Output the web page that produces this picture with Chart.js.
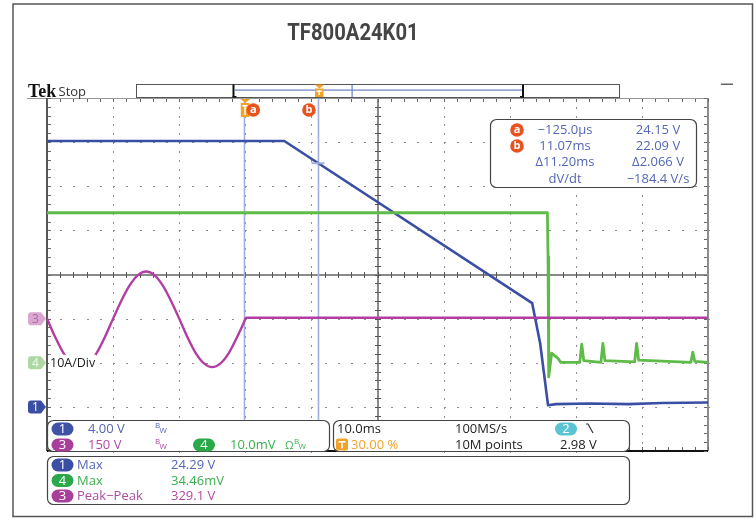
<!DOCTYPE html>
<html>
<head>
<meta charset="utf-8">
<script src="https://cdn.jsdelivr.net/npm/chart.js@4/dist/chart.umd.min.js"></script>
<style>
  html, body { margin: 0; padding: 0; background: #fff; }
  #scope { display: block; }
</style>
</head>
<body>
<canvas id="scope" width="756" height="519"></canvas>
<script>
// ── Scope capture: TF800A24K01 ──
// Ch1 = output voltage, Ch3 = mains, Ch4 = current probe (10A/Div).

// time axis in ms (10 ms/div, trigger at 30 %)
const ch1Time  = [-30, 5.9, 43.4, 44.6, 45.8, 47, 52, 58, 63, 70];
const ch1Volts = [24.1, 24.1, 9.4, 5.8, 0.15, 0.25, 0.3, 0.25, 0.35, 0.4];

const ch3Time  = [-30, -28.75, -27.5, -26.25, -25, -23.75, -22.5, -21.25, -20, -18.75, -17.5, -16.25,
                  -15, -13.75, -12.5, -11.25, -10, -8.75, -7.5, -6.25, -5, -3.75, -2.5, -1.25, 0, 0.1, 70];
const ch3Volts = [0, -63, -117, -152, -165, -152, -117, -63, 0, 61, 113, 148,
                  160, 148, 113, 61, 0, -63, -117, -152, -165, -152, -117, -63, -2, 3, 3];

const ch4Time       = [-30, 45.7, 45.8, 45.9, 46.35, 46.8, 47.3, 47.7, 50.6, 50.9, 51.2, 53.8, 54.1, 54.4,
                       58.9, 59.2, 59.5, 67.4, 67.7, 68.0, 70];
const ch4MilliVolts = [34, 34, 24, -3.2, 2.2, 1.6, 1.0, 0.1, 0.1, 4.2, 0.5, 0.1, 4.4, 0.5,
                       0.2, 4.4, 0.6, 0.1, 2.4, 0.3, 0.1];

const cursorTimes = [-0.125, 11.07];
const cursorVolts = [24.15, 22.09];
const cursorNames = ['a', 'b'];
const readoutTime = ['\u2212125.0\u00b5s', '11.07ms', '\u039411.20ms', 'dV/dt'];
const readoutVolt = ['24.15 V', '22.09 V', '\u03942.066 V', '\u2212184.4 V/s'];

const measNames  = ['Max', 'Max', 'Peak\u2212Peak'];
const measValues = ['24.29 V', '34.46mV', '329.1 V'];
const measChans  = ['1', '4', '3'];

const C = {
  ch1: '#3a4fa3', ch1Txt: '#5466b5',
  ch2: '#5cc3d3',
  ch3: '#b23ea3', ch3Txt: '#b04aa2',
  ch4: '#5fbb48', ch4Badge: '#2ba84a', ch4Txt: '#3bb04e',
  cursor: '#a3aee0', orange: '#f4a12a', red: '#e8531f'
};
const F = '"Open Sans", "Liberation Sans", sans-serif';

function rr(ctx, x, y, w, h, r) {
  ctx.beginPath();
  ctx.moveTo(x + r, y);
  ctx.arcTo(x + w, y, x + w, y + h, r);
  ctx.arcTo(x + w, y + h, x, y + h, r);
  ctx.arcTo(x, y + h, x, y, r);
  ctx.arcTo(x, y, x + w, y, r);
  ctx.closePath();
}
function text(ctx, s, x, y, color, align, size) {
  ctx.font = (size || 13) + 'px ' + F;
  ctx.fillStyle = color;
  ctx.textAlign = align || 'left';
  ctx.textBaseline = 'middle';
  ctx.fillText(s, x, y);
}
function pill(ctx, cx, cy, fill, label) {
  rr(ctx, cx - 11, cy - 6.5, 22, 13, 6.5);
  ctx.fillStyle = fill;
  ctx.fill();
  text(ctx, label, cx, cy + 0.5, '#fff', 'center', 13);
}
function bw(ctx, x, y, color) {
  text(ctx, 'B', x, y - 3, color, 'left', 8);
  text(ctx, 'W', x + 4.5, y + 2, color, 'left', 8);
}
function box(ctx, x, y, w, h) {
  rr(ctx, x, y, w, h, 6);
  ctx.fillStyle = '#fff';
  ctx.fill();
  ctx.strokeStyle = '#444';
  ctx.lineWidth = 1.2;
  ctx.stroke();
}
function circleTag(ctx, cx, cy, letter) {
  ctx.beginPath();
  ctx.arc(cx, cy, 6.8, 0, Math.PI * 2);
  ctx.fillStyle = C.red;
  ctx.fill();
  ctx.font = 'bold 11px ' + F;
  ctx.fillStyle = '#fff';
  ctx.textAlign = 'center';
  ctx.textBaseline = 'middle';
  ctx.fillText(letter, cx, cy);
}
function trigT(ctx, x, top, h) {
  ctx.fillStyle = C.orange;
  ctx.beginPath();
  ctx.moveTo(x - 5, top); ctx.lineTo(x + 5, top); ctx.lineTo(x, top + 4); ctx.closePath();
  ctx.fill();
  ctx.fillRect(x - 4.5, top + 4, 8.5, h);
  ctx.fillStyle = '#fff';
  ctx.fillRect(x - 3, top + 6, 5.5, 1.5);
  ctx.fillRect(x - 1, top + 6, 1.5, h - 4);
}
function chanMarker(ctx, y, fill, color, label) {
  const x0 = 28, x1 = 41, x2 = 46, h = 13;
  ctx.beginPath();
  ctx.moveTo(x0 + 3, y - h / 2);
  ctx.lineTo(x1, y - h / 2);
  ctx.lineTo(x2, y);
  ctx.lineTo(x1, y + h / 2);
  ctx.lineTo(x0 + 3, y + h / 2);
  ctx.quadraticCurveTo(x0, y + h / 2, x0, y + h / 2 - 3);
  ctx.lineTo(x0, y - h / 2 + 3);
  ctx.quadraticCurveTo(x0, y - h / 2, x0 + 3, y - h / 2);
  ctx.fillStyle = fill;
  ctx.fill();
  text(ctx, label, 35.5, y + 0.5, color, 'center', 12);
}

// dotted Tek graticule + cursors, behind the traces
const graticule = {
  id: 'graticule',
  beforeDatasetsDraw(chart) {
    const { ctx, chartArea: a, scales: s } = chart;
    const xs = s.x, ys = s.div;
    const px = t => Math.round(xs.getPixelForValue(t));
    const py = d => Math.round(ys.getPixelForValue(d));
    ctx.save();
    ctx.fillStyle = '#8c8c8c';
    for (let t = -20; t <= 60; t += 10) {
      if (t === 20) continue;
      for (let i = -20; i <= 20; i++) ctx.fillRect(px(t), py(i / 5), 1, 2);
    }
    for (let d = -3; d <= 3; d++) {
      if (d === 0) continue;
      for (let t = -30; t <= 70; t += 2) ctx.fillRect(px(t), py(d), 2, 1);
    }
    // centre cross with minor ticks
    const cx = px(20), cy = py(0);
    ctx.fillStyle = '#8a8a8a';
    ctx.fillRect(a.left, cy - 1, a.right - a.left, 2);
    ctx.fillRect(cx - 1, a.top, 2, a.bottom - a.top);
    ctx.fillStyle = '#555';
    for (let t = -30; t <= 70; t += 2) ctx.fillRect(px(t), cy - 3, 1, 6);
    for (let i = -20; i <= 20; i++) ctx.fillRect(cx - 3, py(i / 5), 6, 1);
    // frame borders with inward ticks
    ctx.fillStyle = '#999';
    ctx.fillRect(27, a.top, a.right - 27, 1);
    ctx.fillStyle = '#555';
    ctx.fillRect(a.left - 1, a.top, 2, a.bottom - a.top);
    ctx.fillStyle = '#8c8c8c';
    ctx.fillRect(a.right - 1, a.top, 2, a.bottom - a.top);
    ctx.fillStyle = '#111';
    ctx.fillRect(a.left, a.bottom - 1, a.right - a.left, 2);
    ctx.fillStyle = '#666';
    for (let t = -30; t <= 70; t += 2) {
      ctx.fillRect(px(t), a.top + 1, 1, 3);
      ctx.fillRect(px(t), a.bottom - 4, 1, 3);
    }
    for (let i = -20; i <= 20; i++) {
      ctx.fillRect(a.left + 1, py(i / 5), 3, 1);
      ctx.fillRect(a.right - 4, py(i / 5), 3, 1);
    }
    // cursors a / b
    ctx.strokeStyle = C.cursor;
    ctx.lineWidth = 1.6;
    cursorTimes.forEach(t => {
      const x = xs.getPixelForValue(t);
      ctx.beginPath();
      ctx.moveTo(x, a.top);
      ctx.lineTo(x, a.bottom);
      ctx.stroke();
    });
    ctx.restore();
  }
};

// readouts, markers and header, on top
const overlay = {
  id: 'overlay',
  afterDatasetsDraw(chart) {
    const { ctx, chartArea: a, scales: s } = chart;
    ctx.save();

    // cursor b crossing mark on Ch1
    const bx = s.x.getPixelForValue(cursorTimes[1]);
    const by = s.y1.getPixelForValue(cursorVolts[1]);
    ctx.strokeStyle = C.cursor;
    ctx.lineWidth = 2;
    ctx.beginPath(); ctx.moveTo(bx - 7, by); ctx.lineTo(bx + 6, by); ctx.stroke();

    // trigger marker and cursor tags
    const tx = s.x.getPixelForValue(0);
    trigT(ctx, tx, a.top + 1, 14);
    circleTag(ctx, tx + 8, a.top + 12, cursorNames[0]);
    circleTag(ctx, bx - 9.5, a.top + 12, cursorNames[1]);

    // channel ground markers
    chanMarker(ctx, s.y3.getPixelForValue(0), '#dba7d2', '#a56f9c', '3');
    chanMarker(ctx, s.y4.getPixelForValue(0), '#acd9a2', '#f2fbef', '4');
    chanMarker(ctx, s.y1.getPixelForValue(0), C.ch1, '#fff', '1');
    const y4 = s.y4.getPixelForValue(0);
    ctx.fillStyle = '#fff';
    ctx.fillRect(49, y4 - 8, 47, 16);
    text(ctx, '10A/Div', 50, y4 + 0.5, '#222', 'left', 12.5);

    // cursor readout
    box(ctx, 490.5, 119.5, 206, 68);
    const rows = [130, 146, 162.5, 179];
    rows.forEach((y, i) => {
      if (i < 2) circleTag(ctx, 517, y, cursorNames[i]);
      text(ctx, readoutTime[i], 565, y, C.ch1Txt, 'center');
      text(ctx, readoutVolt[i], 658, y, C.ch1Txt, 'center');
    });

    // channel settings box
    box(ctx, 47.5, 420.5, 282, 31);
    pill(ctx, 62.5, 429, '#3f53a6', '1');
    text(ctx, '4.00 V', 88, 429.5, C.ch1Txt);
    bw(ctx, 155, 429, C.ch1Txt);
    pill(ctx, 62.5, 445, '#a73f9a', '3');
    text(ctx, '150 V', 88, 445.5, C.ch3Txt);
    bw(ctx, 155, 445, C.ch3Txt);
    pill(ctx, 204, 445, C.ch4Badge, '4');
    text(ctx, '10.0mV', 230, 445.5, C.ch4Txt);
    text(ctx, '\u03a9', 285, 445.5, C.ch4Txt, 'left', 11);
    bw(ctx, 294, 445, C.ch4Txt);

    // timebase / trigger box
    box(ctx, 333.5, 420.5, 296, 31);
    text(ctx, '10.0ms', 337, 429.5, '#222');
    text(ctx, '100MS/s', 455, 429.5, '#222');
    pill(ctx, 566, 429, C.ch2, '2');
    ctx.strokeStyle = '#333';
    ctx.lineWidth = 1.2;
    ctx.beginPath(); ctx.moveTo(586, 424); ctx.lineTo(588, 424); ctx.lineTo(593, 433); ctx.stroke();
    rr(ctx, 336, 438.5, 12, 12, 2);
    ctx.fillStyle = C.orange; ctx.fill();
    ctx.fillStyle = '#fff';
    ctx.fillRect(338.5, 441, 7, 1.6);
    ctx.fillRect(341.2, 441, 1.6, 7.5);
    text(ctx, '30.00 %', 351, 445.5, C.orange);
    text(ctx, '10M points', 455, 445.5, '#222');
    text(ctx, '2.98 V', 560, 445.5, '#222');

    // measurements
    box(ctx, 47.5, 456.5, 582, 48);
    const mColors = [[C.ch1, C.ch1Txt], [C.ch4Badge, C.ch4Txt], ['#a73f9a', C.ch3Txt]];
    [465, 480.5, 496].forEach((y, i) => {
      pill(ctx, 62.5, y, mColors[i][0], measChans[i]);
      text(ctx, measNames[i], 77, y + 0.5, mColors[i][1]);
      text(ctx, measValues[i], 171, y + 0.5, mColors[i][1]);
    });

    // header
    ctx.save();
    ctx.translate(353, 34);
    ctx.scale(0.88, 1);
    ctx.font = 'bold 23px Roboto, "Liberation Sans", sans-serif';
    ctx.fillStyle = '#444';
    ctx.textAlign = 'center';
    ctx.textBaseline = 'middle';
    ctx.fillText('TF800A24K01', 0, 0);
    ctx.restore();

    ctx.font = 'bold 18px "Liberation Serif", "DejaVu Serif", serif';
    ctx.fillStyle = '#111';
    ctx.textAlign = 'left';
    ctx.textBaseline = 'alphabetic';
    ctx.fillText('Tek', 28, 96.5);
    ctx.font = '13px ' + F;
    ctx.fillStyle = '#333';
    ctx.fillText('Stop', 58.5, 96);

    // record view bar
    ctx.strokeStyle = '#555';
    ctx.lineWidth = 1;
    ctx.strokeRect(136.5, 84.5, 483, 13);
    ctx.fillStyle = '#6a7fc6';
    ctx.fillRect(235, 89.5, 287, 1.2);
    ctx.fillRect(351.5, 85, 1.2, 12);
    ctx.fillStyle = '#111';
    ctx.fillRect(232.5, 84.5, 2, 13);
    ctx.fillRect(232.5, 96, 4, 1.5);
    ctx.fillRect(522, 84.5, 2, 13);
    ctx.fillRect(520, 96, 4, 1.5);
    trigT(ctx, 319.5, 84.5, 8.5);

    // top-right dash and outer frame
    ctx.fillStyle = '#666';
    ctx.fillRect(721, 83.5, 12, 1.5);
    ctx.strokeStyle = '#555';
    ctx.lineWidth = 1.5;
    ctx.strokeRect(13, 4, 739.5, 512.5);

    ctx.restore();
  }
};

const toPoints = (xs, ys) => xs.map((x, i) => ({ x, y: ys[i] }));

new Chart(document.getElementById('scope'), {
  type: 'line',
  data: {
    datasets: [
      {
        label: 'Ch3',
        data: toPoints(ch3Time, ch3Volts),
        yAxisID: 'y3',
        borderColor: C.ch3,
        borderWidth: 2.4,
        cubicInterpolationMode: 'monotone',
        pointRadius: 0
      },
      {
        label: 'Ch4',
        data: toPoints(ch4Time, ch4MilliVolts),
        yAxisID: 'y4',
        borderColor: C.ch4,
        borderWidth: 2.8,
        pointRadius: 0
      },
      {
        label: 'Ch1',
        data: toPoints(ch1Time, ch1Volts),
        yAxisID: 'y1',
        borderColor: C.ch1,
        borderWidth: 2.6,
        pointRadius: 0
      }
    ]
  },
  options: {
    responsive: false,
    devicePixelRatio: 1,
    animation: false,
    layout: { padding: { left: 47, right: 48, top: 98, bottom: 68 } },
    plugins: { legend: { display: false }, tooltip: { enabled: false } },
    elements: { line: { borderJoinStyle: 'round', borderCapStyle: 'round' } },
    scales: {
      x: { type: 'linear', min: -30, max: 70, display: false },
      div: { type: 'linear', axis: 'y', min: -4, max: 4, display: false },
      y1: { type: 'linear', axis: 'y', min: -4, max: 28, display: false },
      y3: { type: 'linear', axis: 'y', min: -450, max: 750, display: false },
      y4: { type: 'linear', axis: 'y', min: -20, max: 60, display: false }
    }
  },
  plugins: [graticule, overlay]
});
</script>
</body>
</html>
